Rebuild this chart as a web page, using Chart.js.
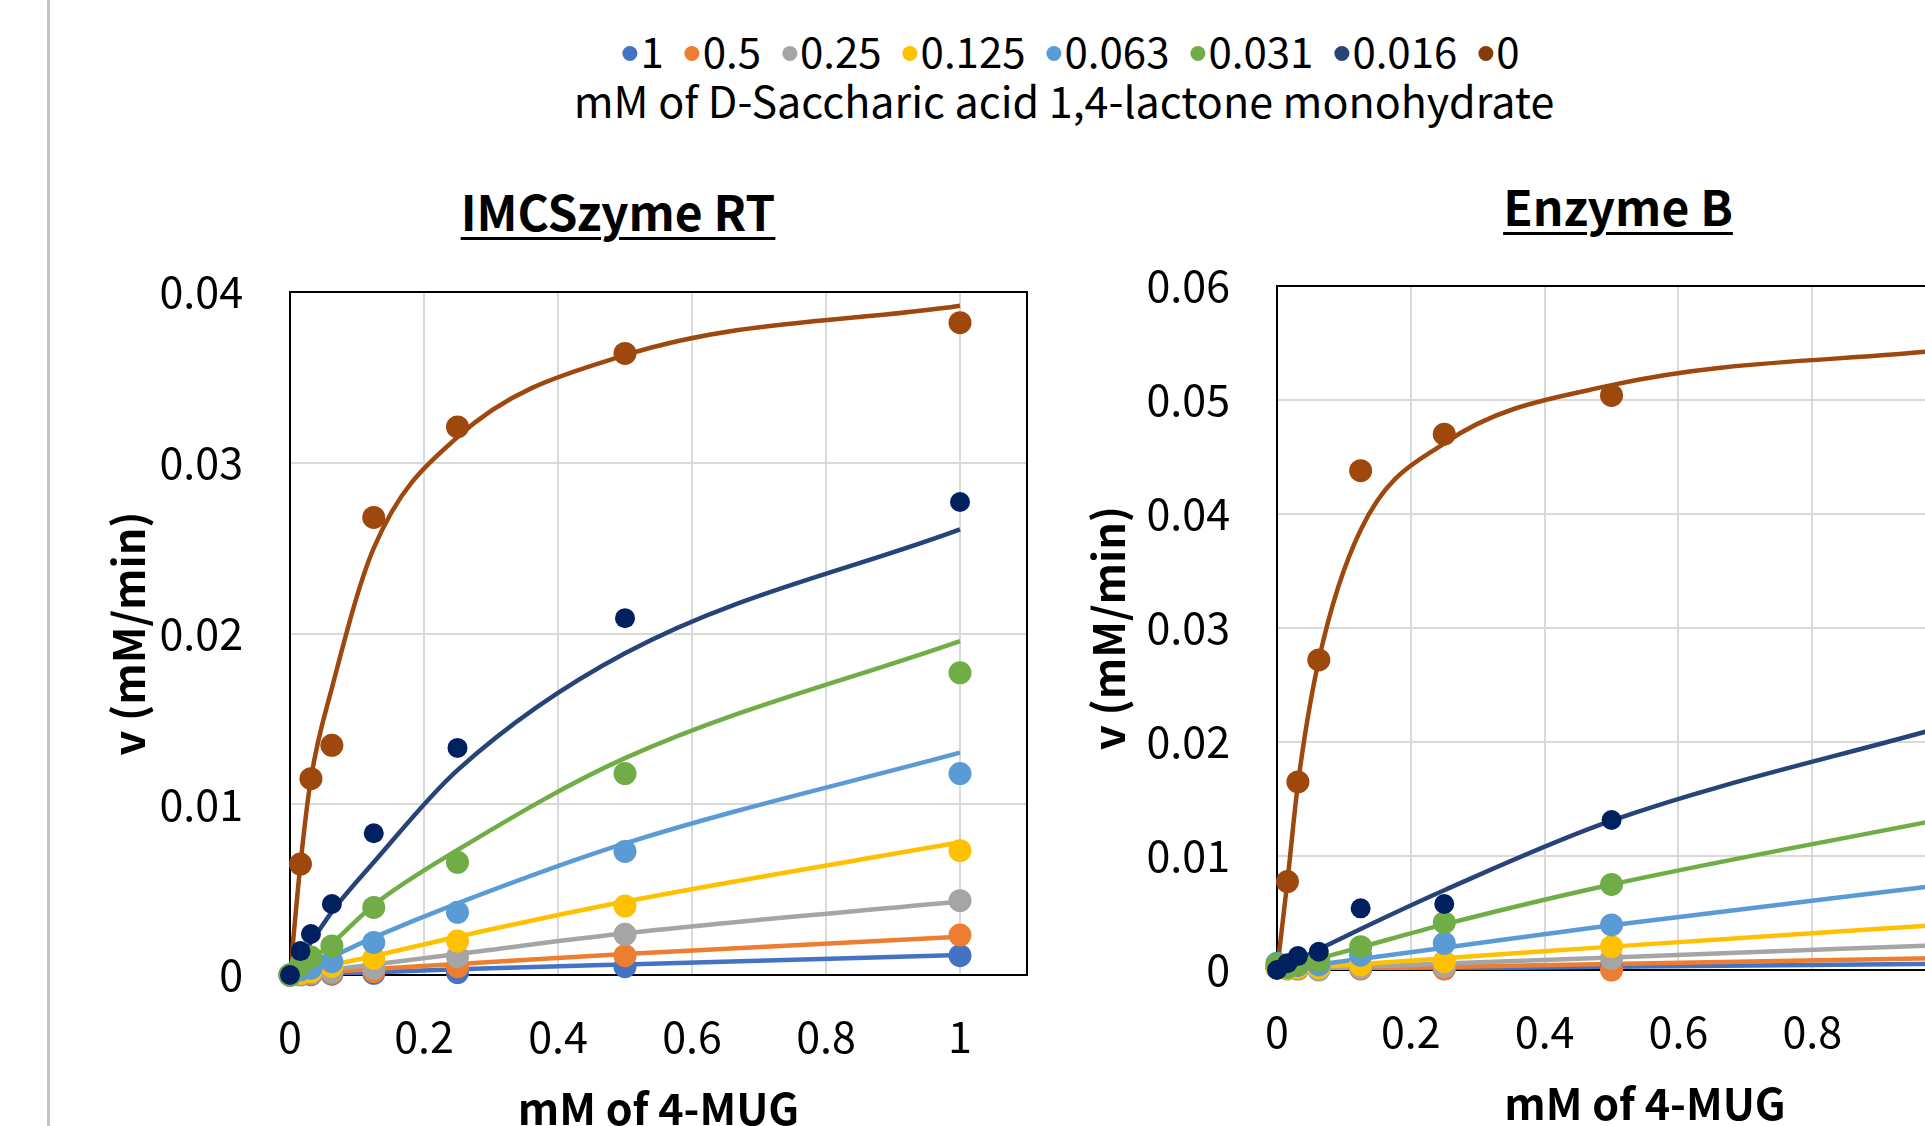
<!DOCTYPE html>
<html>
<head>
<meta charset="utf-8">
<script src="https://cdn.jsdelivr.net/npm/chart.js@4.4.1/dist/chart.umd.min.js"></script>
<style>
  html, body { margin: 0; padding: 0; background: #fff; overflow: hidden; width: 1925px; height: 1126px; }
  body { position: relative; font-family: "Noto Sans CJK JP", sans-serif; color: #000; }
  #rule { position: absolute; left: 47px; top: 0; width: 3px; height: 1126px; background: #c4c4c4; }
  canvas { position: absolute; top: 0; }
  #c1 { left: 0; }
  #c2 { left: 1060px; }
  .title { position: absolute; font-weight: 700; font-size: 48px; line-height: 48px; text-decoration: underline;
           text-decoration-thickness: 3px; text-underline-offset: 6px; white-space: nowrap; transform: translateX(-50%); }
  #legend { position: absolute; left: 1071px; top: 29px; transform: translateX(-50%); display: flex;
            font-size: 42px; line-height: 42px; white-space: nowrap; }
  #legend .item { display: flex; align-items: center; margin-right: 21px; }
  #legend .item:last-child { margin-right: 0; }
  #legend .dot { width: 15px; height: 15px; border-radius: 50%; margin-right: 3px; position: relative; top: 3px; }
  #legendTitle { position: absolute; left: 1064px; top: 78px; transform: translateX(-50%);
                 font-size: 43px; line-height: 43px; white-space: nowrap; }
</style>
</head>
<body>
<div id="rule"></div>
<div id="legend"></div>
<div id="legendTitle">mM of D-Saccharic acid 1,4-lactone monohydrate</div>
<div class="title" style="left:618px; top:186px;">IMCSzyme RT</div>
<div class="title" style="left:1618px; top:181px;">Enzyme B</div>
<canvas id="c1" width="1060" height="1150"></canvas>
<canvas id="c2" width="980" height="1150"></canvas>
<script>
// substrate (4-MUG, mM)
const conc = [0, 0.015625, 0.03125, 0.0625, 0.125, 0.25, 0.5, 1];
// inhibitor concentrations (mM of D-saccharic acid 1,4-lactone)
const inhibitor = ['1', '0.5', '0.25', '0.125', '0.063', '0.031', '0.016', '0'];
const xTicks = [0, 0.2, 0.4, 0.6, 0.8, 1];

// IMCSzyme RT, measured v (mM/min); rows follow inhibitor, columns follow conc
const rtRates = [
  [0, 0.00001, 0.00002, 0.00005, 0.0001, 0.00014, 0.00049, 0.00113],
  [0, 0.00003, 0.00006, 0.0001, 0.0002, 0.00049, 0.00113, 0.00234],
  [0, 0.00005, 0.0001, 0.0002, 0.0004, 0.00107, 0.00238, 0.00435],
  [0, 0.0001, 0.0002, 0.0005, 0.00098, 0.00199, 0.00404, 0.00728],
  [0, 0.0003, 0.0004, 0.00078, 0.00191, 0.00367, 0.00724, 0.0118],
  [0, 0.0006, 0.00105, 0.0017, 0.00396, 0.0066, 0.0118, 0.0177],
  [0, 0.0014, 0.0024, 0.00416, 0.0083, 0.0133, 0.0209, 0.0277],
  [null, 0.0065, 0.0115, 0.01345, 0.0268, 0.0321, 0.0364, 0.0382]
];
// IMCSzyme RT, fitted curves
const rtFit = [
  [0, 0.00002, 0.00004, 0.00008, 0.00016, 0.00033, 0.00062, 0.00117],
  [0, 0.00005, 0.00009, 0.00018, 0.00035, 0.00064, 0.00123, 0.00224],
  [0, 0.00008, 0.00016, 0.00031, 0.00062, 0.00123, 0.00244, 0.0043],
  [0, 0.00015, 0.0003, 0.00059, 0.00111, 0.00224, 0.0043, 0.00777],
  [0, 0.00028, 0.00055, 0.00107, 0.0022, 0.0042, 0.00771, 0.01302],
  [0, 0.00045, 0.0009, 0.00185, 0.0041, 0.00732, 0.0127, 0.01956],
  [0, 0.001, 0.0019, 0.0037, 0.0066, 0.0120, 0.01884, 0.0261],
  [0, 0.0065, 0.0115, 0.0168, 0.025, 0.0315, 0.0363, 0.0392]
];

// Enzyme B, measured v (mM/min)
const bRates = [
  [0.0002, 0.0001, 0.0001, 0.0001, 0.0001, 0.0001, 0.0002, 0.0005],
  [0.0002, 0.0001, 0.0001, 0.0001, 0.0001, 0.0001, 0.0, 0.001],
  [0.0003, 0.0002, 0.0002, 0.0, 0.0002, 0.0003, 0.001, 0.0022],
  [0.0002, 0.0001, 0.0002, 0.0002, 0.00044, 0.00073, 0.00205, 0.004],
  [0.0006, 0.0003, 0.0004, 0.00044, 0.0013, 0.00234, 0.00395, 0.0075],
  [0.0005, 0.0002, 0.0005, 0.0008, 0.00205, 0.00415, 0.00751, 0.0133],
  [0, 0.0006, 0.00122, 0.0016, 0.00541, 0.00579, 0.01316, 0.0215],
  [null, 0.00776, 0.0165, 0.0272, 0.0438, 0.047, 0.0504, 0.0535]
];
// Enzyme B, fitted curves
const bFit = [
  [0, 0.00001, 0.00002, 0.00004, 0.00007, 0.00014, 0.00028, 0.00055],
  [0, 0.00002, 0.00003, 0.00007, 0.00013, 0.00027, 0.00052, 0.00105],
  [0, 0.00003, 0.00007, 0.00014, 0.00028, 0.00056, 0.0011, 0.0022],
  [0, 0.00006, 0.00013, 0.00026, 0.00052, 0.00103, 0.00205, 0.004],
  [0, 0.00012, 0.00024, 0.00048, 0.00097, 0.00195, 0.00392, 0.0075],
  [0, 0.00025, 0.0005, 0.001, 0.002, 0.004, 0.0075, 0.0133],
  [0, 0.00045, 0.0009, 0.0018, 0.0036, 0.007, 0.0131, 0.0214],
  [0, 0.0078, 0.0163, 0.0272, 0.0386, 0.0462, 0.0513, 0.0544]
];

const dotColors  = ['#4472C4', '#ED7D31', '#A5A5A5', '#FFC000', '#5B9BD5', '#70AD47', '#002060', '#9E480E'];
const lineColors = ['#4472C4', '#ED7D31', '#A5A5A5', '#FFC000', '#5B9BD5', '#70AD47', '#264478', '#9E480E'];
const keyColors  = ['#4472C4', '#ED7D31', '#A5A5A5', '#FFC000', '#5B9BD5', '#70AD47', '#264478', '#843C0C'];

// shared legend
const legend = document.getElementById('legend');
inhibitor.forEach((name, i) => {
  const item = document.createElement('div');
  item.className = 'item';
  item.innerHTML = '<span class="dot" style="background:' + keyColors[i] + '"></span><span>' + name + '</span>';
  legend.appendChild(item);
});

Chart.defaults.font.family = '"Noto Sans CJK JP", sans-serif';
Chart.defaults.color = '#000';

function buildDatasets(rates, fits) {
  const sets = [];
  inhibitor.forEach((name, i) => {
    sets.push({
      label: name + ' fit',
      data: conc.map((x, j) => ({ x: x, y: fits[i][j] })),
      showLine: true,
      borderColor: lineColors[i],
      borderWidth: 4.5,
      pointRadius: 0,
      cubicInterpolationMode: 'monotone',
      fill: false,
      order: 20 + (7 - i)
    });
    sets.push({
      label: name,
      data: conc.map((x, j) => ({ x: x, y: rates[i][j] })).filter(p => p.y !== null),
      showLine: false,
      backgroundColor: dotColors[i],
      pointRadius: i === 6 ? 10 : 11.5,
      pointBorderWidth: 0,
      clip: false,
      order: 7 - i
    });
  });
  return sets;
}

const plotBox = {
  id: 'plotBox',
  beforeDatasetsDraw(chart) {
    const a = chart.chartArea;
    const ctx = chart.ctx;
    ctx.save();
    ctx.strokeStyle = '#000';
    ctx.lineWidth = 2;
    ctx.strokeRect(a.left, a.top, a.right - a.left, a.bottom - a.top);
    ctx.restore();
  }
};

function makeChart(id, rates, fits, yMax, box) {
  const canvas = document.getElementById(id);
  return new Chart(canvas.getContext('2d'), {
    type: 'scatter',
    data: { datasets: buildDatasets(rates, fits) },
    options: {
      responsive: false,
      animation: false,
      devicePixelRatio: 1,
      events: [],
      layout: { padding: { left: 0, top: box.top, right: canvas.width - box.right, bottom: 0 } },
      plugins: { legend: { display: false }, tooltip: { enabled: false } },
      scales: {
        x: {
          type: 'linear', min: 0, max: 1.1,
          afterBuildTicks: axis => { axis.ticks = xTicks.map(v => ({ value: v })); },
          afterFit: scale => { scale.height = canvas.height - box.bottom; },
          grid: { color: '#d9d9d9', lineWidth: 2, drawTicks: false },
          border: { display: false },
          ticks: { padding: 36, font: { size: 43 }, maxRotation: 0, callback: v => String(+v.toFixed(4)) },
          title: { display: true, text: 'mM of 4-MUG', font: { size: 43, weight: 'bold' },
                   padding: { top: 0, bottom: box.xTitlePad } }
        },
        y: {
          min: 0, max: yMax,
          ticks: { stepSize: 0.01, padding: 47, font: { size: 43 }, callback: v => String(+v.toFixed(4)) },
          afterFit: scale => { scale.width = box.left; },
          grid: { color: '#d9d9d9', lineWidth: 2, drawTicks: false },
          border: { display: false },
          title: { display: true, text: 'v (mM/min)', font: { size: 43, weight: 'bold' },
                   padding: { top: box.yTitlePad, bottom: 0 } }
        }
      }
    },
    plugins: [plotBox]
  });
}

makeChart('c1', rtRates, rtFit, 0.04, { left: 290, top: 292, right: 1027, bottom: 975, yTitlePad: 103, xTitlePad: 16 });
makeChart('c2', bRates, bFit, 0.06, { left: 217, top: 286, right: 953, bottom: 970, yTitlePad: 23, xTitlePad: 21 });
</script>
</body>
</html>
